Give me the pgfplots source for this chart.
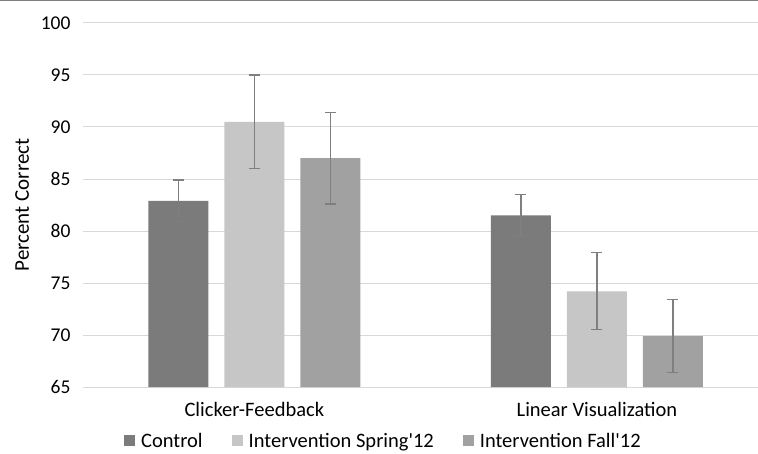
\documentclass[border=0pt]{standalone}
\usepackage{pgfplots}
\pgfplotsset{compat=1.18}
\usepackage{fontspec}
\setmainfont{Carlito}

\definecolor{ctrl}{HTML}{7B7B7B}
\definecolor{spring}{HTML}{C6C6C6}
\definecolor{fall}{HTML}{A1A1A1}
\definecolor{errc}{HTML}{7F7F7F}
\definecolor{gridc}{HTML}{D9D9D9}

\begin{document}
\begin{tikzpicture}
\path[use as bounding box] (0,0) rectangle (758pt,453pt);
\draw[errc, line width=1.5pt] (0,452.5pt) -- (758pt,452.5pt);
\begin{axis}[
    at={(83pt,66pt)}, anchor=south west,
    scale only axis,
    width=675pt, height=364pt,
    ybar=16pt, bar width=60pt,
    xmin=-0.5, xmax=1.47,
    ymin=65, ymax=100,
    ytick={65,70,...,100},
    xtick=data,
    xticklabels={Clicker-Feedback, Linear Visualization},
    ymajorgrids,
    grid style={gridc, line width=1pt},
    axis line style={draw=none},
    tick style={draw=none},
    /pgf/number format/assume math mode=true,
    yticklabel style={font=\fontsize{19.5}{22}\selectfont, anchor=east, xshift=-9pt},
    xticklabel style={font=\fontsize{20.5}{24}\selectfont, anchor=base, yshift=-25pt},
    ylabel={Percent Correct},
    every axis y label/.style={at={(axis description cs:-0.09,0.5)}, rotate=90,
        anchor=center, font=\fontsize{21}{24}\selectfont},
    legend columns=3,
    legend style={at={(axis description cs:0.0607,-0.148)}, anchor=west, draw=none,
        inner sep=0pt, font=\fontsize{20.5}{24}\selectfont,
        /tikz/every odd column/.append style={column sep=4pt},
        /tikz/every even column/.append style={column sep=27pt},
        nodes={inner sep=2pt}},
    legend image code/.code={\fill[#1] (0pt,-5.5pt) rectangle (11pt,5.5pt);},
    error bars/y dir=both, error bars/y explicit,
    error bars/error bar style={errc, line width=1.3pt},
    error bars/error mark options={errc, line width=1.3pt, mark size=5.5pt, rotate=90},
]
\addplot[fill=ctrl, draw=none] coordinates {(0,82.9) +- (0,2.0) (1,81.5) +- (0,2.0)};
\addplot[fill=spring, draw=none] coordinates {(0,90.5) +- (0,4.5) (1,74.2) +- (0,3.7)};
\addplot[fill=fall, draw=none] coordinates {(0,87.0) +- (0,4.4) (1,69.9) +- (0,3.5)};
\legend{Control, Intervention Spring\textquotesingle12, Intervention Fall\textquotesingle12}
\end{axis}
\end{tikzpicture}
\end{document}
